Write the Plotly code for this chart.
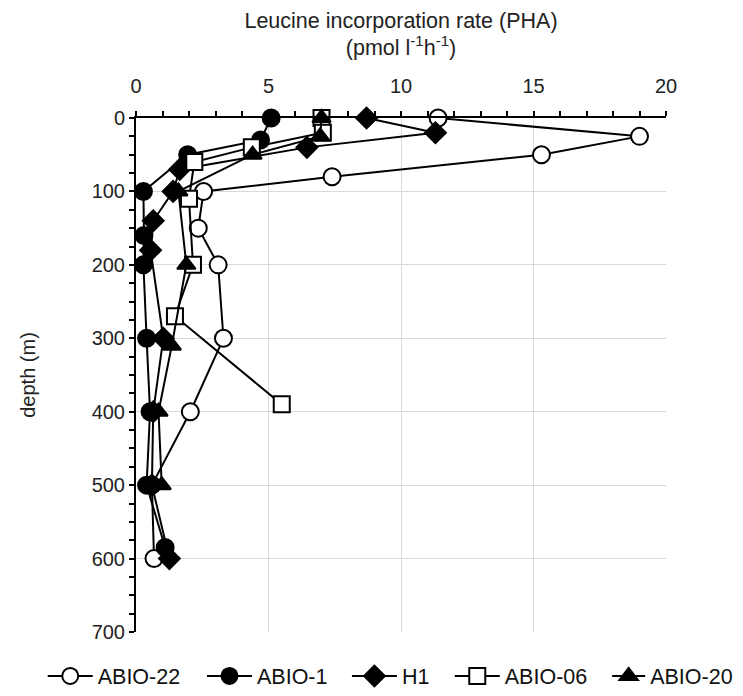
import plotly.graph_objects as go

# ---- data ----
abio22_x = [11.4, 19.0, 15.3, 7.4, 2.55, 2.35, 3.1, 3.3, 2.05, 0.6, 0.68]
abio22_y = [0, 25, 50, 80, 100, 150, 200, 300, 400, 500, 600]

abio1_x = [5.1, 4.7, 1.95, 0.28, 0.3, 0.28, 0.4, 0.53, 0.4, 1.1]
abio1_y = [0, 30, 50, 100, 160, 200, 300, 400, 500, 585]

h1_x = [8.7, 11.3, 6.45, 1.65, 1.4, 0.65, 0.55, 1.03, 0.65, 0.6, 1.26]
h1_y = [0, 20, 40, 70, 100, 140, 180, 300, 400, 500, 600]

abio06_x = [7.0, 7.05, 4.37, 2.2, 2.0, 2.15, 1.47, 5.5]
abio06_y = [0, 20, 40, 60, 110, 200, 270, 390]

abio20_x = [7.0, 6.95, 4.4, 1.6, 1.9, 1.35, 0.85, 0.97]
abio20_y = [0, 25, 50, 100, 200, 310, 400, 500]

series_names = ["ABIO-22", "ABIO-1", "H1", "ABIO-06", "ABIO-20"]
series_x = [abio22_x, abio1_x, h1_x, abio06_x, abio20_x]
series_y = [abio22_y, abio1_y, h1_y, abio06_y, abio20_y]

symbols = ["circle", "circle", "diamond", "square", "triangle-up"]
fills = ["white", "black", "black", "white", "black"]
sizes = [17, 17, 16, 16, 16]
legend_x = [-0.176, 0.1245, 0.398, 0.592, 0.889]
legend_itemwidth = [45, 45, 45, 45, 33]

FONT = "Liberation Sans, Arial, sans-serif"
FS = 20
TFS = 21.5

fig = go.Figure()
legend_layouts = {}
for i, name in enumerate(series_names):
    lg = "legend" if i == 0 else f"legend{i + 1}"
    fig.add_trace(go.Scatter(
        x=series_x[i], y=series_y[i], name=name, mode="lines+markers",
        line=dict(color="black", width=2),
        marker=dict(symbol=symbols[i], size=sizes[i], color=fills[i],
                    line=dict(color="black", width=2)),
        cliponaxis=False, legend=lg,
    ))
    legend_layouts[lg] = dict(
        orientation="h", x=legend_x[i], xanchor="left", y=-0.0856,
        yanchor="middle", font=dict(size=TFS, family=FONT, color="#111"),
        itemwidth=legend_itemwidth[i], bgcolor="rgba(0,0,0,0)", borderwidth=0,
    )

fig.update_layout(
    width=743, height=696,
    paper_bgcolor="white", plot_bgcolor="white",
    margin=dict(l=136, r=77, t=118, b=64, autoexpand=False),
    font=dict(family=FONT, size=FS, color="#222"),
    showlegend=True,
    **legend_layouts,
)

fig.update_xaxes(
    side="top", range=[0, 20], dtick=5, tick0=0, automargin=False,
    showgrid=True, gridcolor="#d9d9d9", gridwidth=1,
    showline=True, linecolor="black", linewidth=2,
    ticks="outside", ticklen=5, tickwidth=2, tickcolor="black",
    ticklabelstandoff=10,
    minor=dict(dtick=1, ticks="outside", ticklen=5, tickwidth=2,
               tickcolor="black", showgrid=False),
    zeroline=False,
    tickfont=dict(size=FS, family=FONT),
    title=dict(text="Leucine incorporation rate (PHA)<br>(pmol l<sup>-1</sup>h<sup>-1</sup>)",
               font=dict(size=TFS, family=FONT), standoff=13),
)
fig.update_yaxes(
    range=[700, 0], dtick=100, tick0=0, automargin=False,
    showgrid=True, gridcolor="#d9d9d9", gridwidth=1,
    showline=True, linecolor="black", linewidth=2,
    ticks="outside", ticklen=5, tickwidth=2, tickcolor="black",
    minor=dict(dtick=25, ticks="outside", ticklen=5, tickwidth=2,
               tickcolor="black", showgrid=False),
    zeroline=False,
    tickfont=dict(size=FS, family=FONT),
    title=dict(text="depth (m)", font=dict(size=FS, family=FONT), standoff=51),
)

fig.write_html("out.html", config={"displayModeBar": False},
               post_script="document.body.style.margin='0px';")
